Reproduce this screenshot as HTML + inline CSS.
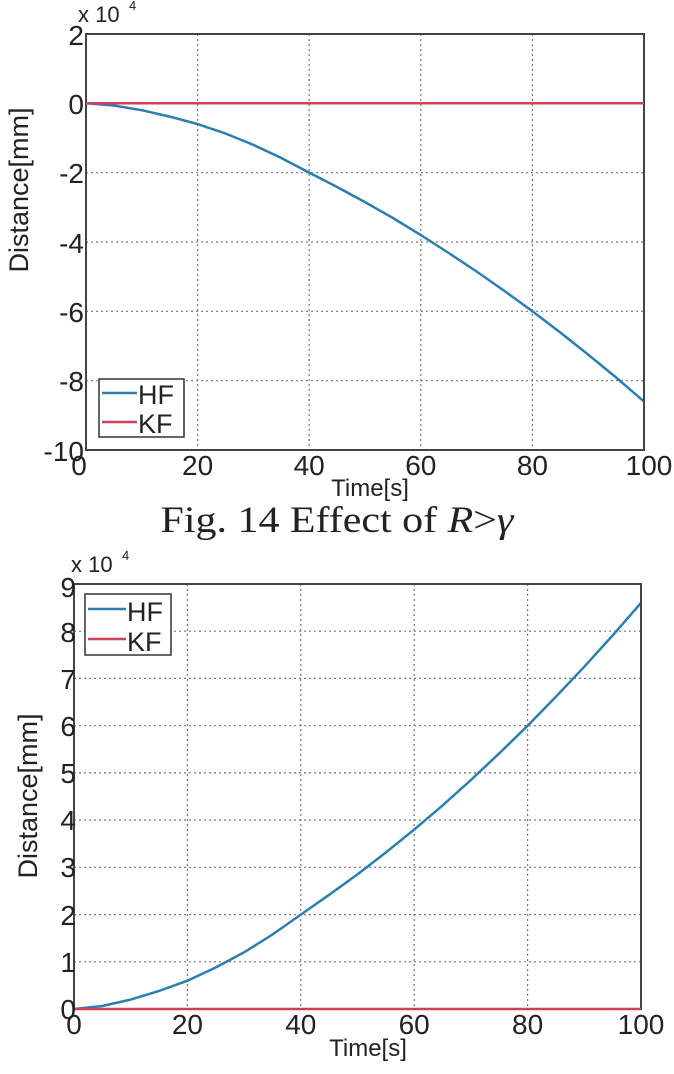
<!DOCTYPE html>
<html><head><meta charset="utf-8"><style>
html,body{margin:0;padding:0;background:#fff;}
svg{display:block;}
text{font-family:"Liberation Sans",sans-serif;fill:#222;}
</style></head><body>
<svg width="674" height="1074" viewBox="0 0 674 1074" xmlns="http://www.w3.org/2000/svg">
<g stroke="#777" stroke-width="1.2" stroke-dasharray="2,3">
<line x1="197.6" y1="34" x2="197.6" y2="450"/>
<line x1="309.2" y1="34" x2="309.2" y2="450"/>
<line x1="420.8" y1="34" x2="420.8" y2="450"/>
<line x1="532.4" y1="34" x2="532.4" y2="450"/>
<line x1="86" y1="172.7" x2="644" y2="172.7"/>
<line x1="86" y1="242" x2="644" y2="242"/>
<line x1="86" y1="311.3" x2="644" y2="311.3"/>
<line x1="86" y1="380.7" x2="644" y2="380.7"/>
</g>
<polyline fill="none" stroke="#2a7fb0" stroke-width="2.5" points="86,103.3 113.9,105.5 141.8,110.2 169.7,116.6 197.6,124.1 225.5,133.5 253.4,144.9 281.3,158 309.2,172.6 337.1,187 365,202.1 392.9,218 420.8,235 448.7,253 476.6,271.5 504.5,291 532.4,311.3 560.3,332.5 588.2,354.6 616.1,377.5 644,401.5"/>
<rect x="86" y="34" width="558" height="416" fill="none" stroke="#444" stroke-width="2"/>
<line x1="86" y1="103.3" x2="644" y2="103.3" stroke="#d0405a" stroke-width="2.5"/>
<rect x="99" y="379" width="85" height="58" fill="#fff" stroke="#333" stroke-width="1.5"/>
<line x1="102" y1="393" x2="137" y2="393" stroke="#2a7fb0" stroke-width="2.5"/>
<line x1="102" y1="422" x2="137" y2="422" stroke="#d0405a" stroke-width="2.5"/>
<text x="138" y="404" font-size="27">HF</text>
<text x="138" y="433" font-size="27">KF</text>
<g font-size="28" text-anchor="end">
<text x="84" y="45">2</text>
<text x="84" y="114">0</text>
<text x="84" y="183">-2</text>
<text x="84" y="253">-4</text>
<text x="84" y="322">-6</text>
<text x="84" y="391">-8</text>
<text x="84" y="461">-10</text>
</g>
<text x="78" y="22" font-size="22">x 10</text>
<text x="129" y="10" font-size="13">4</text>
<g font-size="28" text-anchor="middle">
<text x="79" y="475">0</text>
<text x="197.6" y="475">20</text>
<text x="309.2" y="475">40</text>
<text x="420.8" y="475">60</text>
<text x="532.4" y="475">80</text>
<text x="649" y="475">100</text>
</g>
<text x="370" y="496" font-size="24" text-anchor="middle">Time[s]</text>
<text transform="translate(28,190) rotate(-90)" font-size="27" text-anchor="middle">Distance[mm]</text>
<text x="337" y="532" font-size="37" text-anchor="middle" style="font-family:'Liberation Serif',serif" textLength="353" lengthAdjust="spacingAndGlyphs">Fig. 14 Effect of <tspan font-style="italic">R</tspan>&gt;<tspan font-style="italic">γ</tspan></text>

<g stroke="#777" stroke-width="1.2" stroke-dasharray="2,3">
<line x1="187.4" y1="584" x2="187.4" y2="1009"/>
<line x1="300.8" y1="584" x2="300.8" y2="1009"/>
<line x1="414.2" y1="584" x2="414.2" y2="1009"/>
<line x1="527.6" y1="584" x2="527.6" y2="1009"/>
<line x1="74" y1="631.2" x2="641" y2="631.2"/>
<line x1="74" y1="678.4" x2="641" y2="678.4"/>
<line x1="74" y1="725.7" x2="641" y2="725.7"/>
<line x1="74" y1="772.9" x2="641" y2="772.9"/>
<line x1="74" y1="820.1" x2="641" y2="820.1"/>
<line x1="74" y1="867.3" x2="641" y2="867.3"/>
<line x1="74" y1="914.6" x2="641" y2="914.6"/>
<line x1="74" y1="961.8" x2="641" y2="961.8"/>
</g>
<polyline fill="none" stroke="#2a7fb0" stroke-width="2.5" points="74,1009 102.4,1006 130.7,999.6 159,991 187.4,980.7 215.7,967.5 244.1,952.3 272.5,934.5 300.8,914.6 329.1,894.8 357.5,874.4 385.8,852.5 414.2,829.6 442.6,805.4 470.9,780 499.2,753.4 527.6,725.7 555.9,696.8 584.3,666.7 612.6,635.5 641,602.9"/>
<rect x="74" y="584" width="567" height="425" fill="none" stroke="#444" stroke-width="2"/>
<line x1="74" y1="1009" x2="641" y2="1009" stroke="#d0405a" stroke-width="2.5"/>
<g font-size="28" text-anchor="end">
<text x="76" y="597">9</text>
<text x="76" y="642">8</text>
<text x="76" y="689">7</text>
<text x="76" y="736">6</text>
<text x="76" y="783">5</text>
<text x="76" y="830">4</text>
<text x="76" y="877">3</text>
<text x="76" y="925">2</text>
<text x="76" y="972">1</text>
<text x="76" y="1019">0</text>
</g>
<text x="71" y="572" font-size="22">x 10</text>
<text x="122" y="560" font-size="13">4</text>
<g font-size="28" text-anchor="middle">
<text x="74" y="1034">0</text>
<text x="187.4" y="1034">20</text>
<text x="300.8" y="1034">40</text>
<text x="414.2" y="1034">60</text>
<text x="527.6" y="1034">80</text>
<text x="641" y="1034">100</text>
</g>
<text x="368" y="1056" font-size="24" text-anchor="middle">Time[s]</text>
<text transform="translate(37,796) rotate(-90)" font-size="27" text-anchor="middle">Distance[mm]</text>
<rect x="85" y="594" width="86" height="61" fill="#fff" stroke="#333" stroke-width="1.5"/>
<line x1="88" y1="609" x2="126" y2="609" stroke="#2a7fb0" stroke-width="2.5"/>
<line x1="88" y1="639" x2="126" y2="639" stroke="#d0405a" stroke-width="2.5"/>
<text x="127" y="621" font-size="27">HF</text>
<text x="127" y="651" font-size="27">KF</text>
</svg>
</body></html>
